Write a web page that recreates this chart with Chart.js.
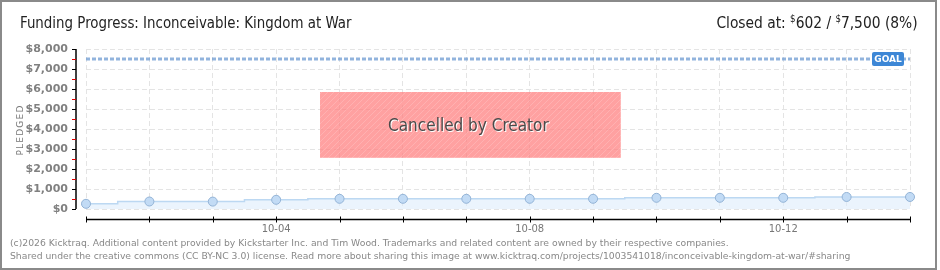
<!DOCTYPE html>
<html>
<head>
<meta charset="utf-8">
<script src="https://cdn.jsdelivr.net/npm/chart.js@4"></script>
<style>
  html, body { margin: 0; padding: 0; background: #fff; }
  #wrap { position: relative; width: 940px; height: 270px; overflow: hidden; }
  #frame { position: absolute; left: 0; top: 0; width: 937px; height: 270px; box-sizing: border-box; border: 2px solid #8a8a8a; }
  #canvas { position: absolute; left: 0; top: 0; }
  .hdr { position: absolute; top: 13px; font-family: "Liberation Sans Narrow", "DejaVu Sans Condensed", sans-serif; font-size: 16px; color: #222; white-space: nowrap; }
  .hdr sup { font-size: 10px; vertical-align: 6px; }
  #title { left: 20px; transform: scaleX(0.93); transform-origin: left center; }
  #closed { right: 22px; transform: scaleX(0.96); transform-origin: right center; }
  #ytitle { position: absolute; left: 20px; top: 130px; transform: translate(-50%, -50%) rotate(-90deg); font-family: "DejaVu Sans", sans-serif; font-size: 9px; letter-spacing: 1.2px; color: #777; }
  #footer { position: absolute; left: 10px; top: 237px; font-family: "DejaVu Sans", sans-serif; font-size: 9.25px; line-height: 12.5px; color: #888; white-space: nowrap; }
</style>
</head>
<body>
<div id="wrap">
  <canvas id="canvas" width="940" height="270"></canvas>
  <div id="frame"></div>
  <div class="hdr" id="title">Funding Progress: Inconceivable: Kingdom at War</div>
  <div class="hdr" id="closed">Closed at: <sup>$</sup>602 / <sup>$</sup>7,500 (8%)</div>
  <div id="ytitle">PLEDGED</div>
  <div id="footer">(c)2026 Kicktraq. Additional content provided by Kickstarter Inc. and Tim Wood. Trademarks and related content are owned by their respective companies.<br>Shared under the creative commons (CC BY-NC 3.0) license. Read more about sharing this image at www.kicktraq.com/projects/1003541018/inconceivable-kingdom-at-war/#sharing</div>
</div>
<script>
// daily pledged totals
const days = ["10-01", "10-02", "10-03", "10-04", "10-05", "10-06", "10-07",
              "10-08", "10-09", "10-10", "10-11", "10-12", "10-13", "10-14"];
const pledged = [260, 375, 370, 460, 510, 510, 510, 510, 510, 560, 560, 560, 602, 602];
const goal = 7500;
const yTicks = [0, 1000, 2000, 3000, 4000, 5000, 6000, 7000, 8000];

// striped pink fill for the "cancelled" box
function stripes() {
  let c = document.createElement("canvas");
  c.width = 6; c.height = 6;
  let g = c.getContext("2d");
  g.fillStyle = "rgba(255,128,128,0.74)";
  g.fillRect(0, 0, 6, 6);
  g.strokeStyle = "rgba(255,255,255,0.18)";
  g.lineWidth = 1;
  g.beginPath();
  g.moveTo(0, 6); g.lineTo(6, 0);
  g.moveTo(-3, 3); g.lineTo(3, -3);
  g.moveTo(3, 9); g.lineTo(9, 3);
  g.stroke();
  return g.createPattern(c, "repeat");
}

const extras = {
  id: "extras",
  afterDatasetsDraw(chart) {
    let ctx = chart.ctx;
    let a = chart.chartArea;
    let x = chart.scales.x, y = chart.scales.y;

    // cancelled overlay
    let bx = a.left + (a.right - a.left) * 0.284;
    let bw = (a.right - a.left) * 0.365;
    let by = y.getPixelForValue(5850);
    let bh = y.getPixelForValue(2560) - by;
    ctx.save();
    ctx.fillStyle = stripes();
    ctx.fillRect(bx, by, bw, bh);
    ctx.font = "17px 'Liberation Sans Narrow', 'DejaVu Sans Condensed', sans-serif";
    ctx.textAlign = "center";
    ctx.textBaseline = "middle";
    let tx = bx + bw / 2 - 2, ty = by + bh / 2 + 2;
    ctx.fillStyle = "#fff";
    ctx.fillText("Cancelled by Creator", tx + 1, ty + 1);
    ctx.fillStyle = "#4a4a4a";
    ctx.fillText("Cancelled by Creator", tx, ty);

    // goal badge
    let gy = y.getPixelForValue(goal);
    ctx.fillStyle = "#3d87d6";
    ctx.beginPath();
    ctx.roundRect(a.right - 38, gy - 7, 32, 14, 2);
    ctx.fill();
    ctx.fillStyle = "#fff";
    ctx.font = "bold 9px 'DejaVu Sans', sans-serif";
    ctx.fillText("GOAL", a.right - 22, gy + 0.5);

    // offset axes, d3 style
    ctx.strokeStyle = "#000";
    ctx.lineWidth = 1.5;
    let ax = a.left - 10;
    ctx.beginPath();
    ctx.moveTo(ax, a.top); ctx.lineTo(ax, a.bottom);
    ctx.stroke();
    ctx.lineWidth = 1;
    for (let v = 0; v <= 8000; v += 500) {
      let py = Math.round(y.getPixelForValue(v)) + 0.5;
      ctx.strokeStyle = v % 1000 === 0 ? "#000" : "#e00000";
      ctx.beginPath();
      ctx.moveTo(ax - 4, py); ctx.lineTo(ax, py);
      ctx.stroke();
    }
    let ay = a.bottom + 10.5;
    ctx.strokeStyle = "#000";
    ctx.lineWidth = 1.5;
    ctx.beginPath();
    ctx.moveTo(a.left, ay); ctx.lineTo(a.right, ay);
    ctx.stroke();
    ctx.lineWidth = 1;
    days.forEach((d, i) => {
      let px = Math.round(x.getPixelForValue(i)) + 0.5;
      ctx.beginPath();
      ctx.moveTo(px, ay - 3); ctx.lineTo(px, ay + 3);
      ctx.stroke();
    });
    ctx.restore();
  }
};

new Chart(document.getElementById("canvas"), {
  type: "line",
  data: {
    labels: days,
    datasets: [
      {
        label: "Goal",
        data: days.map(() => goal),
        borderColor: "rgba(110,155,210,0.75)",
        borderWidth: 3,
        borderDash: [4, 2],
        pointRadius: 0,
        fill: false,
      },
      {
        label: "Pledged",
        data: pledged,
        stepped: "middle",
        borderColor: "#bcd8f2",
        borderWidth: 1.5,
        backgroundColor: "rgba(222,236,251,0.6)",
        fill: "origin",
        pointRadius: 4.5,
        pointBackgroundColor: "#c2dbf5",
        pointBorderColor: "#93b3d6",
        pointBorderWidth: 1,
      },
    ],
  },
  options: {
    responsive: false,
    animation: false,
    layout: { padding: { top: 49, bottom: 31, left: 0, right: 30 } },
    plugins: {
      legend: { display: false },
      tooltip: { enabled: false },
    },
    scales: {
      x: {
        offset: false,
        afterFit: (s) => { s.height = 30; },
        grid: { color: "#e4e4e4", drawTicks: false },
        border: { display: false, dash: [5, 3] },
        ticks: {
          autoSkip: false,
          maxRotation: 0,
          padding: 14,
          color: "#777",
          font: { family: "DejaVu Sans", size: 10 },
          callback: (v, i) => (i % 4 === 3 ? days[i] : ""),
        },
      },
      y: {
        min: yTicks[0],
        max: yTicks[yTicks.length - 1],
        afterFit: (s) => { s.width = 86; },
        afterBuildTicks: (s) => { s.ticks = yTicks.map((v) => ({ value: v })); },
        grid: { color: "#e4e4e4", drawTicks: false },
        border: { display: false, dash: [5, 3] },
        ticks: {
          padding: 18,
          color: "#808080",
          font: { family: "DejaVu Sans", size: 11, weight: "bold" },
          callback: (v) => "$" + v.toLocaleString("en-US"),
        },
      },
    },
  },
  plugins: [extras],
});
</script>
</body>
</html>
